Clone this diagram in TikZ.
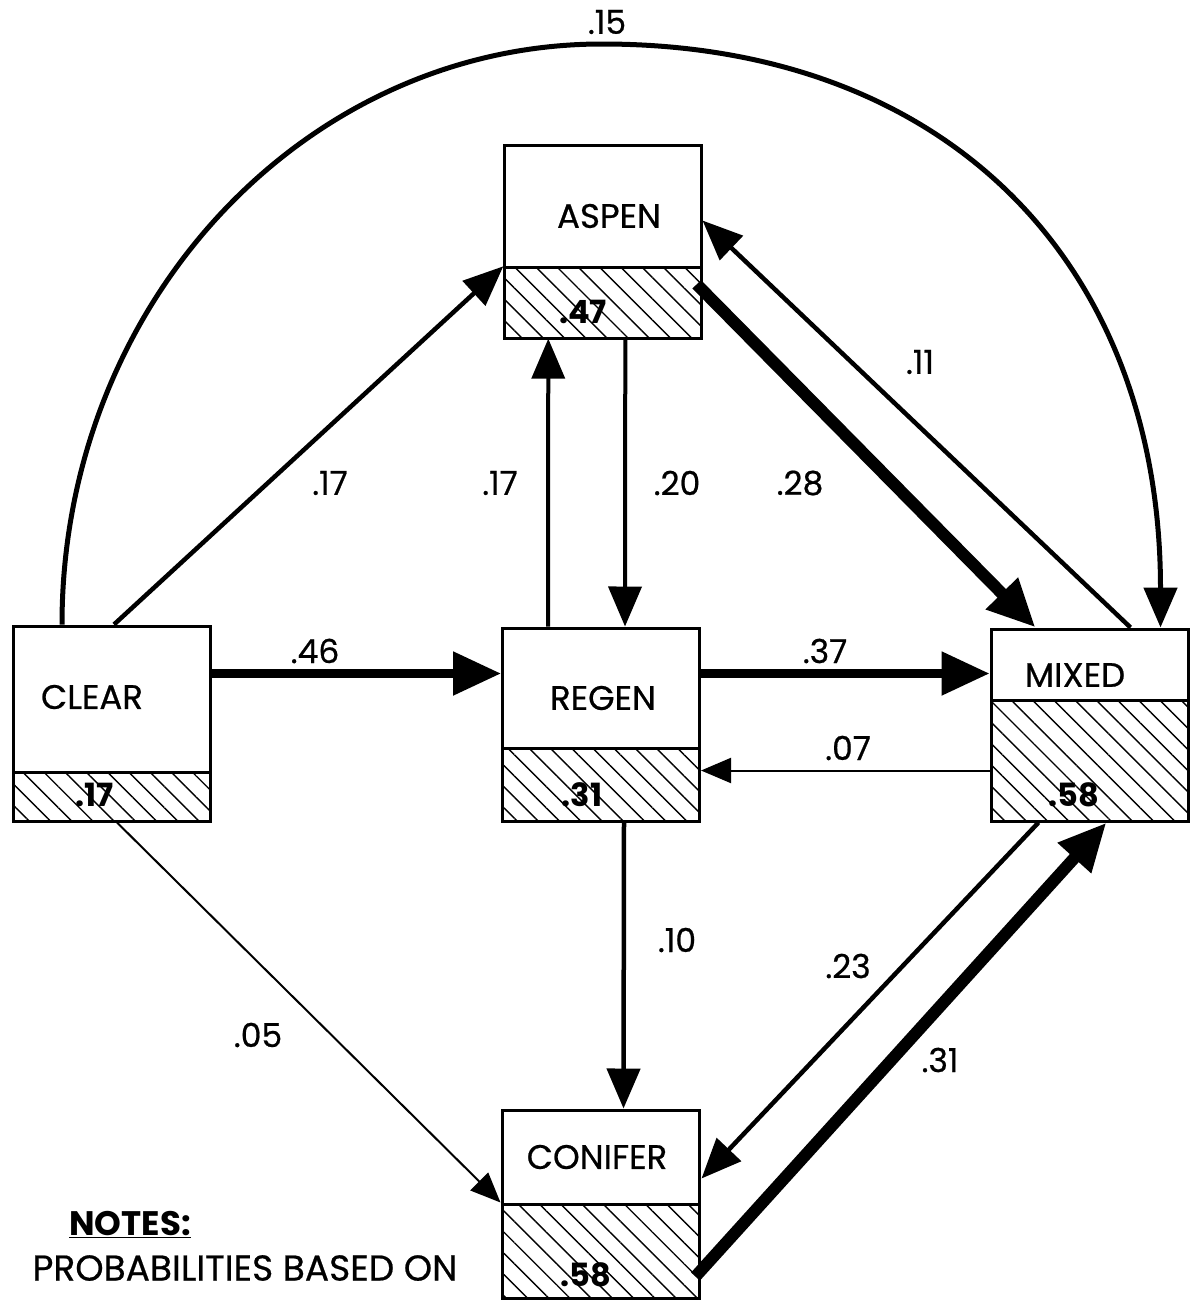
\documentclass[tikz,border=0pt]{standalone}
\usepackage{fontspec}
\setmainfont{Poppins}
\newfontfamily\lblfont{Poppins}[FakeBold=0.6]
\usetikzlibrary{arrows.meta,patterns.meta,calc}
\begin{document}
\begin{tikzpicture}[x=1pt,y=-1pt,
  box/.style={draw,line width=3pt,minimum width=197pt,inner sep=0pt},
  valbox/.style={box,pattern={Lines[angle=-45,distance=15pt,line width=1.4pt]}},
  txt/.style={font=\lblfont\fontsize{34}{40}\selectfont,inner sep=0pt},
  valtxt/.style={font=\fontsize{32}{38}\selectfont\bfseries,inner sep=0pt},
  prob/.style={font=\lblfont\fontsize{33}{38}\selectfont,inner sep=0pt},
  conn/.style={line cap=butt,line join=miter},
  tipS/.style={conn,-{Triangle[length=30pt,width=25pt]}},
  tipM/.style={conn,-{Triangle[length=40pt,width=33pt]}},
  tipL/.style={conn,-{Triangle[length=48pt,width=42pt]}},
  wthin/.style={line width=2pt},
  wmed/.style={line width=4.5pt},
  wthick/.style={line width=8.5pt},
  wheavy/.style={line width=12pt}
]
\useasboundingbox (0,0) rectangle (1195,1301);
\fill[white] (0,0) rectangle (1195,1301);

% boxes
\node[box,minimum height=122pt] (aspen) at (602.5,206) {};
\node[valbox,minimum height=71pt] (aspenv) at (602.5,302.5) {};
\node[box,minimum height=146pt] (clear) at (112,699) {};
\node[valbox,minimum height=49pt] (clearv) at (112,796.5) {};
\node[box,minimum height=120pt] (regen) at (601,688) {};
\node[valbox,minimum height=73pt] (regenv) at (601,784.5) {};
\node[box,minimum height=71pt] (mixed) at (1089.5,664.5) {};
\node[valbox,minimum height=121pt] (mixedv) at (1089.5,760.5) {};
\node[box,minimum height=94pt] (conifer) at (600.5,1157) {};
\node[valbox,minimum height=94pt] (coniferv) at (600.5,1251) {};

% box texts
\node[txt] (aspent) at (609,216) {ASPEN};
\node[txt] (cleart) at (92,697) {CLEAR};
\node[txt] (regent) at (603,698) {REGEN};
\node[txt] (mixedt) at (1075,675) {MIXED};
\node[txt] (conifert) at (597,1157) {CONIFER};
\node[valtxt] (aspenvt) at (583,312) {.47};
\node[valtxt] (clearvt) at (95,795) {.17};
\node[valtxt] (regenvt) at (582,795) {.31};
\node[valtxt] (mixedvt) at (1074,795) {.58};
\node[valtxt] (conifervt) at (586,1275) {.58};

% arc CLEAR -> MIXED
\coordinate (arctop) at (602,44);
\draw[tipM,line width=5pt] ($(clear.north west)+(50,0)$) .. controls +(0,-321) and +(-297,0) .. (arctop)
  .. controls +(347,0) and +(0,-362) .. ($(mixed.north west)+(171,0)$);

% connectors
\draw[tipM,wmed] ($(clear.north west)+(102,0)$) -- (aspenv.north west);
\draw[tipL,wthick] ($(clear.north east)+(0,49)$) -- ($(regen.north west)+(0,47)$);
\draw[tipM,line width=4pt] ($(regen.north west)+(47,0)$) -- ($(aspenv.south west)+(45,0)$);
\draw[tipM,line width=4pt] ($(aspenv.south west)+(122,0)$) -- ($(regen.north west)+(124,0)$);
\draw[tipL,wheavy] ($(aspenv.north east)+(-5,18)$) -- ($(mixed.north west)+(46,0)$);
\draw[tipM,wmed] ($(mixed.north west)+(141,0)$) -- ($(aspen.north east)+(0,77)$);
\draw[tipL,wthick] ($(regen.north east)+(0,47)$) -- ($(mixed.north west)+(0,46)$);
\draw[tipS,wthin] ($(mixedv.north west)+(0,72)$) -- ($(regenv.north east)+(0,24)$);
\draw[tipM,wmed] ($(regenv.south west)+(123,0)$) -- ($(conifer.north west)+(123,0)$);
\draw[tipS,wthin] ($(clearv.south west)+(105,0)$) -- (coniferv.north west);
\draw[tipM,wmed] ($(mixedv.south west)+(49,0)$) -- ($(conifer.north east)+(1,70)$);
\draw[tipL,wheavy] ($(coniferv.north east)+(-5,74)$) -- ($(mixedv.south west)+(117,0)$);

% probabilities
\node[prob] (p15) at (607,22) {.15};
\node[prob] (p17a) at (330,483) {.17};
\node[prob] (p17b) at (500,483) {.17};
\node[prob] (p20) at (677,483) {.20};
\node[prob] (p28) at (800,483) {.28};
\node[prob] (p11) at (920,362) {.11};
\node[prob] (p46) at (315,651) {.46};
\node[prob] (p37) at (825,651) {.37};
\node[prob] (p07) at (848,748) {.07};
\node[prob] (p10) at (677,940) {.10};
\node[prob] (p05) at (258,1035) {.05};
\node[prob] (p23) at (848,966) {.23};
\node[prob] (p31) at (940,1060) {.31};

% notes
\node[inner sep=0pt,font=\fontsize{34}{40}\selectfont\bfseries] (notes) at (130,1225) {\underline{NOTES:}};
\node[txt,font=\lblfont\fontsize{36}{42}\selectfont] (notes2) at (245,1268) {PROBABILITIES BASED ON};
\end{tikzpicture}
\end{document}
